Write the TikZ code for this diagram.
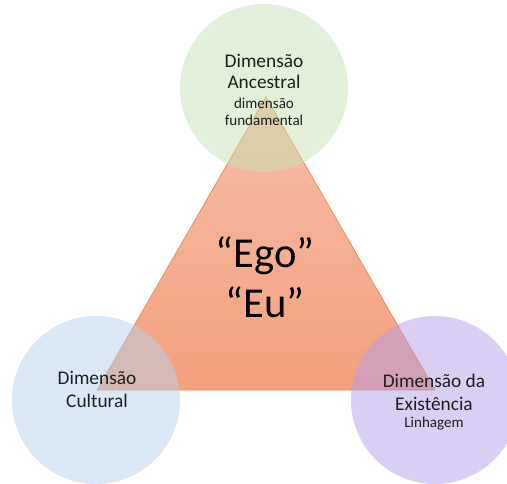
\documentclass[tikz,border=0pt]{standalone}
\usepackage{fontspec}
\setmainfont{Carlito}

\definecolor{ancestralfill}{RGB}{197,225,179}
\definecolor{culturalfill}{RGB}{181,209,235}
\definecolor{existfill}{RGB}{179,159,235}
\definecolor{egotop}{RGB}{246,190,168}
\definecolor{egobottom}{RGB}{244,160,124}
\definecolor{egoline}{RGB}{240,140,90}
\definecolor{labeltext}{RGB}{30,30,30}

\tikzset{
  dimcircle/.style={circle, minimum size=126pt, inner sep=0pt, fill opacity=0.5},
  biglabel/.style={labeltext, anchor=base, inner sep=0pt, font=\fontsize{14.5}{17}\selectfont},
  smalllabel/.style={labeltext, anchor=base, inner sep=0pt, font=\fontsize{11.3}{13}\selectfont},
  egolabel/.style={black, anchor=base, inner sep=0pt, font=\fontsize{32}{36}\selectfont}
}

\begin{document}
\begin{tikzpicture}[x=0.75pt, y=-0.75pt]
    \useasboundingbox (0,0) rectangle (507,483);
    % triangle
    \coordinate (apex) at (266,97);
    \coordinate (left) at (97,390);
    \coordinate (right) at (435,390);
    \shadedraw[top color=egotop, bottom color=egobottom, draw=egoline, line width=0.6pt] (apex) -- (right) -- (left) -- cycle;
    % circles
    \node[dimcircle, fill=ancestralfill] (ancestral) at (264,88) {};
    \node[dimcircle, fill=culturalfill] (cultural) at (96,400) {};
    \node[dimcircle, fill=existfill] (existencia) at (435,400) {};
    % labels
    \node[biglabel] (ancA) at (264,67) {Dimensão};
    \node[biglabel] (ancB) at (264,88) {Ancestral};
    \node[smalllabel] (ancC) at (264,108) {dimensão};
    \node[smalllabel] (ancD) at (264,125) {fundamental};
    \node[biglabel] (culA) at (97,384) {Dimensão};
    \node[biglabel] (culB) at (97,407) {Cultural};
    \node[biglabel] (exiA) at (434,387) {Dimensão da};
    \node[biglabel] (exiB) at (434,410) {Existência};
    \node[smalllabel] (exiC) at (434,427) {Linhagem};
    \node[egolabel] (ego) at (265,267) {“Ego”};
    \node[egolabel] (eu) at (265,317) {“Eu”};
\end{tikzpicture}
\end{document}
